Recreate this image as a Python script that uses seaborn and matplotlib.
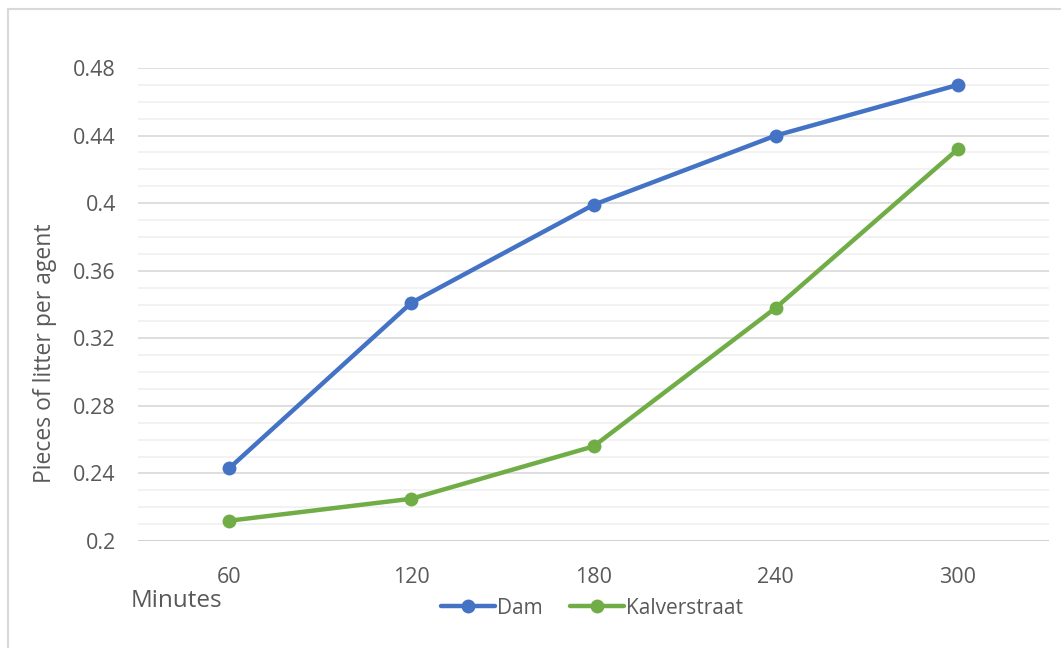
import matplotlib
matplotlib.use("Agg")
import matplotlib.pyplot as plt
from matplotlib.lines import Line2D
import numpy as np
import pandas as pd
import seaborn as sns

# Time points (minutes) and litter per agent for the two locations
minutes = ["60", "120", "180", "240", "300"]
dam = [0.243, 0.341, 0.399, 0.440, 0.470]
kalverstraat = [0.212, 0.225, 0.256, 0.338, 0.432]
series_names = ["Dam", "Kalverstraat"]
y_ticks = [0.2, 0.24, 0.28, 0.32, 0.36, 0.4, 0.44, 0.48]
y_tick_labels = ["0.2", "0.24", "0.28", "0.32", "0.36", "0.4", "0.44", "0.48"]

palette = {"Dam": "#4472C4", "Kalverstraat": "#70AD47"}
text_color = "#595959"

df = pd.DataFrame({
    "pos": list(range(len(minutes))) * 2,
    "value": dam + kalverstraat,
    "series": [series_names[0]] * len(minutes) + [series_names[1]] * len(minutes),
})

sns.set_theme(style="white")
plt.rcParams["font.family"] = ["Open Sans", "DejaVu Sans"]

W, H = 1061, 648
fig = plt.figure(figsize=(W / 100, H / 100), dpi=100)
ax = fig.add_axes([138 / W, 1 - 541 / H, (1049 - 138) / W, (541 - 68) / H])

sns.lineplot(data=df, x="pos", y="value", hue="series", palette=palette,
             linewidth=3.2, marker="o", markersize=10, markeredgewidth=0,
             sort=False, legend=False, ax=ax, zorder=3)

ax.set_xlim(-0.5, len(minutes) - 0.5)
ax.set_ylim(0.2, 0.48)
ax.set_xticks(range(len(minutes)))
ax.set_xticklabels(minutes)
ax.set_yticks(y_ticks)
ax.set_yticklabels(y_tick_labels)
ax.set_yticks(np.arange(0.2, 0.4801, 0.01), minor=True)

ax.grid(which="major", axis="y", color="#d9d9d9", linewidth=1.2, zorder=1)
ax.grid(which="minor", axis="y", color="#f0f0f0", linewidth=1.2, zorder=0)
ax.grid(which="both", axis="x", visible=False)
for side in ["top", "right", "left", "bottom"]:
    ax.spines[side].set_visible(False)
ax.axhline(0.2, color="#d0d0d0", linewidth=1.3, zorder=1)

ax.tick_params(axis="both", which="both", length=0, labelsize=15.5,
               labelcolor=text_color)
ax.tick_params(axis="y", pad=16)
ax.tick_params(axis="x", pad=19)

ax.set_xlabel("")
ax.set_ylabel("Pieces of litter per agent", fontsize=16.5, color=text_color)
ax.yaxis.label.set_verticalalignment("center")
ax.yaxis.set_label_coords(45 / W, 1 - 353 / H, transform=fig.transFigure)
fig.text(131 / W, 1 - 601 / H, "Minutes", fontsize=17.5, color=text_color,
         ha="left", va="center")

handles = [Line2D([0], [0], color=palette[n], linewidth=3.2, marker="o",
                  markersize=10, markeredgewidth=0) for n in series_names]
fig.legend(handles, series_names, loc="center", bbox_to_anchor=(592 / W, 1 - 608 / H),
           ncol=2, frameon=False, fontsize=15, labelcolor=text_color,
           handlelength=2.6, handletextpad=0.1, columnspacing=1.3)

# Chart frame
fig.add_artist(Line2D([7.5 / W, 7.5 / W], [0, 1 - 8.5 / H], transform=fig.transFigure,
                      color="#d9d9d9", linewidth=1.5))
fig.add_artist(Line2D([7.5 / W, 1], [1 - 8.5 / H, 1 - 8.5 / H], transform=fig.transFigure,
                      color="#d9d9d9", linewidth=1.5))

fig.savefig("out.png", dpi=100)
